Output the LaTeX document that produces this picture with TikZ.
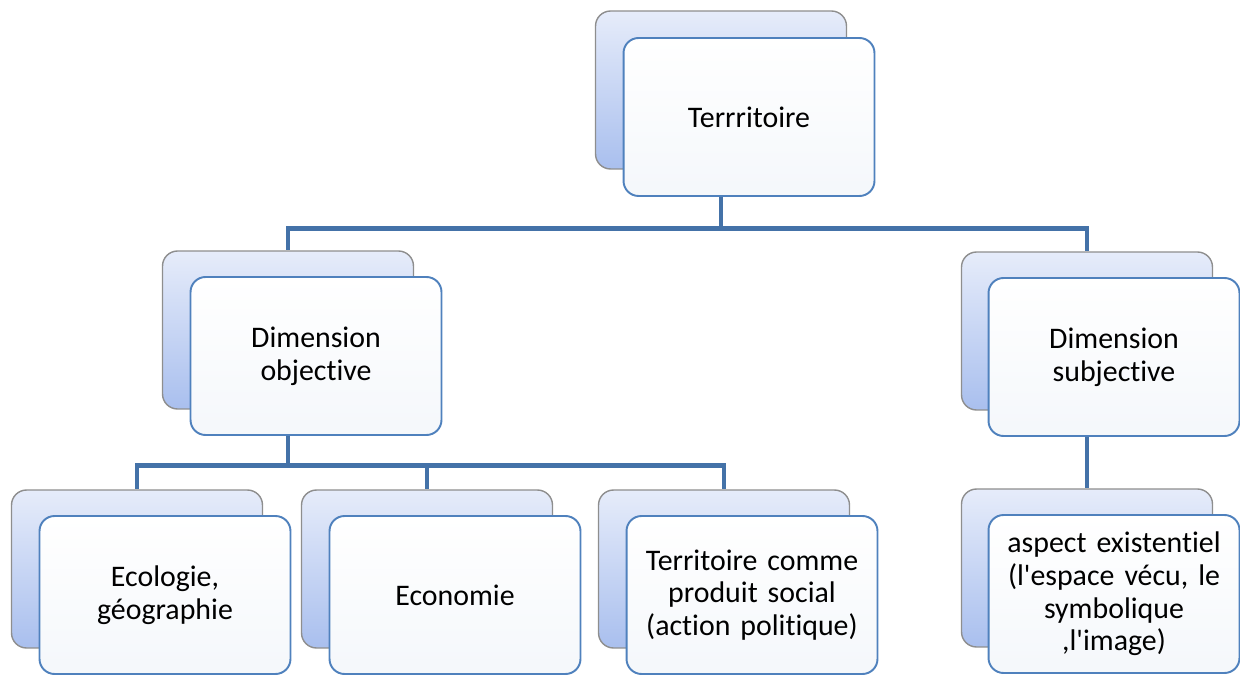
\documentclass[tikz,border=0pt]{standalone}
\usepackage{fontspec}
\setmainfont{Carlito}[Ligatures={NoCommon}, WordSpace=0.8]
\usepackage{xcolor}
\usepackage{tikz}
\usetikzlibrary{positioning}

\definecolor{boxblue}{HTML}{4F81BD}
\definecolor{linkblue}{HTML}{4472A8}
\definecolor{backtop}{HTML}{E6ECFA}
\definecolor{backbot}{HTML}{A9BFEE}
\definecolor{backedge}{HTML}{8E8E8E}

\tikzset{
  back/.style={draw=backedge, line width=0.8pt, rounded corners=0.3cm,
    top color=backtop, bottom color=backbot,
    minimum width=5.02cm, minimum height=3.16cm, inner sep=0pt},
  front/.style={draw=boxblue, line width=1.1pt, rounded corners=0.3cm,
    top color=white, bottom color=white!94!boxblue,
    minimum width=5.02cm, minimum height=3.16cm, inner sep=0pt,
    text width=4.7cm, align=center, font=\fontsize{17}{18.6}\selectfont},
  link/.style={draw=linkblue, line width=2.8pt}
}

\begin{document}
\begin{tikzpicture}[x=0.02cm,y=-0.02cm]
\useasboundingbox (0,0) rectangle (1240,675);
% top level
\node [back] (terr-b) at (721,90) {};
\node [front] (terr) at (749,117) {Terrritoire};
% second level
\node [back] (dobj-b) at (288,330) {};
\node [front] (dobj) at (316,356) {Dimension\\objective};
\node [back] (dsub-b) at (1087,331) {};
\node [front] (dsub) at (1114,357) {Dimension\\subjective};
% third level
\node [back] (eco-b) at (137,569) {};
\node [front] (eco) at (165,595) {Ecologie,\\g\'eographie};
\node [back] (econ-b) at (427,569) {};
\node [front] (econ) at (455,595) {Economie};
\node [back] (tcps-b) at (724,569) {};
\node [front] (tcps) at (752,595) {Territoire comme\\produit social\\(action politique)};
\node [back] (asp-b) at (1087,568) {};
\node [front] (asp) at (1114,594) {aspect existentiel\\(l\textquotesingle espace v\'ecu, le\\symbolique\\,l\textquotesingle image)};
% links
\draw [link] (terr-b |- terr.south) -- ++(0,32) -| (dobj-b.north);
\draw [link] (terr-b |- terr.south) -- ++(0,32) -| (dsub-b.north);
\draw [link] (dobj-b |- dobj.south) -- ++(0,30) -| (eco-b.north);
\draw [link] (dobj-b |- dobj.south) -- ++(0,30) -| (econ-b.north);
\draw [link] (dobj-b |- dobj.south) -- ++(0,30) -| (tcps-b.north);
\draw [link] (dsub-b |- dsub.south) -- (asp-b.north);
\end{tikzpicture}
\end{document}
